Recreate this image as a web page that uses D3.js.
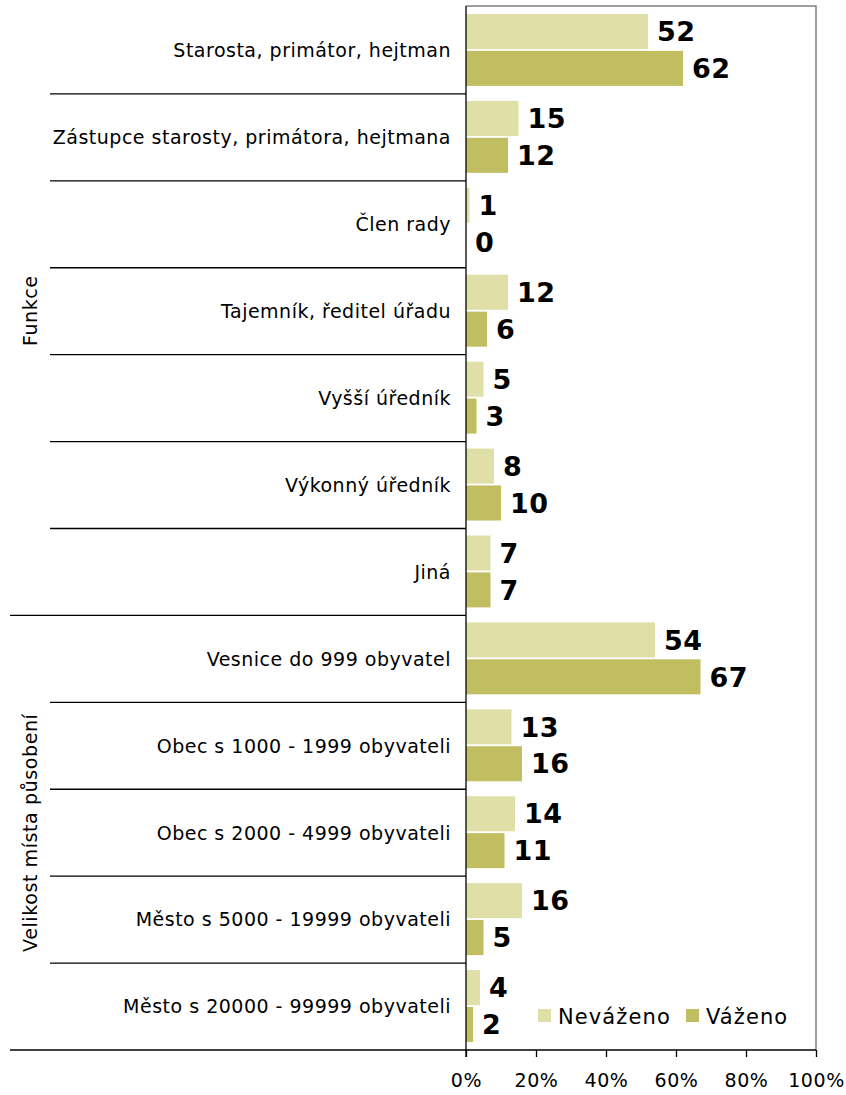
<!DOCTYPE html>
<html>
<head>
<meta charset="utf-8">
<script src="https://cdn.jsdelivr.net/npm/d3@7/dist/d3.min.js"></script>
<style>
  body { margin: 0; background: #fff; }
  svg { display: block; font-family: "DejaVu Sans", Verdana, sans-serif; }
</style>
</head>
<body>
<script>
// categories (top to bottom) and the group each one belongs to
var categories = [
  "Starosta, primátor, hejtman",
  "Zástupce starosty, primátora, hejtmana",
  "Člen rady",
  "Tajemník, ředitel úřadu",
  "Vyšší úředník",
  "Výkonný úředník",
  "Jiná",
  "Vesnice do 999 obyvatel",
  "Obec s 1000 - 1999 obyvateli",
  "Obec s 2000 - 4999 obyvateli",
  "Město s 5000 - 19999 obyvateli",
  "Město s 20000 - 99999 obyvateli"
];
var groups = ["Funkce", "Velikost místa působení"];
var groupSizes = [7, 5];

var series = ["Neváženo", "Váženo"];
var nevazeno = [52, 15, 1, 12, 5, 8, 7, 54, 13, 14, 16, 4];
var vazeno   = [62, 12, 0, 6, 3, 10, 7, 67, 16, 11, 5, 2];
var xTicks = [0, 20, 40, 60, 80, 100];

var W = 846, H = 1095;
var plotLeft = 466, plotRight = 816, plotTop = 6, plotBottom = 1050;

var svg = d3.select("body").append("svg")
    .attr("width", W)
    .attr("height", H);

var x = d3.scaleLinear().domain([0, 100]).range([plotLeft, plotRight]);
var y = d3.scaleBand().domain(categories).range([7, plotBottom]).paddingInner(0).paddingOuter(0);
var ySub = d3.scaleBand().domain(series)
    .range([7, y.bandwidth() - 8]).paddingInner(0.05);
var color = d3.scaleOrdinal().domain(series).range(["#e0dfa8", "#c0be60"]);

// frame (top + right)
svg.append("path")
    .attr("d", "M" + plotLeft + "," + plotTop + "H" + plotRight + "V" + plotBottom)
    .attr("fill", "none")
    .attr("stroke", "#808080")
    .attr("stroke-width", 1.5);

// bars
var data = [];
categories.forEach(function(c, i) {
  data.push({cat: c, s: series[0], v: nevazeno[i]});
  data.push({cat: c, s: series[1], v: vazeno[i]});
});

svg.selectAll(".bar")
    .data(data)
  .enter().append("rect")
    .attr("class", "bar")
    .attr("x", x(0))
    .attr("y", function(d) { return y(d.cat) + ySub(d.s); })
    .attr("width", function(d) { return x(d.v) - x(0); })
    .attr("height", ySub.bandwidth())
    .attr("fill", function(d) { return color(d.s); });

svg.selectAll(".val")
    .data(data)
  .enter().append("text")
    .attr("class", "val")
    .attr("x", function(d) { return x(d.v) + 9; })
    .attr("y", function(d) { return y(d.cat) + ySub(d.s) + ySub.bandwidth() / 2; })
    .attr("dy", "0.36em")
    .style("font-size", "27px")
    .style("font-weight", "bold")
    .style("letter-spacing", "0.5px")
    .text(function(d) { return d.v; });

// category labels
svg.selectAll(".cat")
    .data(categories)
  .enter().append("text")
    .attr("class", "cat")
    .attr("x", 451)
    .attr("y", function(d) { return y(d) + y.bandwidth() / 2; })
    .attr("dy", "0.36em")
    .attr("text-anchor", "end")
    .style("font-size", "19px")
    .style("letter-spacing", "0.5px")
    .text(function(d) { return d; });

// separator lines between categories
var sep = svg.append("g").attr("stroke", "#000").attr("stroke-width", 1.3);
var start = 0;
groups.forEach(function(g, gi) {
  for (var k = 1; k < groupSizes[gi]; k++) {
    var yy = y(categories[start + k]);
    sep.append("line").attr("x1", 50).attr("x2", plotLeft).attr("y1", yy).attr("y2", yy);
  }
  start += groupSizes[gi];
  var yEnd = start < categories.length ? y(categories[start]) : plotBottom;
  sep.append("line").attr("x1", 10).attr("x2", plotLeft).attr("y1", yEnd).attr("y2", yEnd);
});

// group labels
start = 0;
groups.forEach(function(g, gi) {
  var y0 = gi === 0 ? plotTop : y(categories[start]);
  start += groupSizes[gi];
  var y1 = start < categories.length ? y(categories[start]) : plotBottom;
  var cy = (y0 + y1) / 2;
  svg.append("text")
    .attr("transform", "translate(30," + cy + ") rotate(-90)")
    .attr("text-anchor", "middle")
    .attr("dy", "0.36em")
    .style("font-size", "19px")
    .style("letter-spacing", "0.6px")
    .text(g);
});

// y axis line
svg.append("line")
    .attr("x1", plotLeft).attr("x2", plotLeft)
    .attr("y1", plotTop).attr("y2", plotBottom + 7)
    .attr("stroke", "#000").attr("stroke-width", 1.3);

// x axis
var xAxis = d3.axisBottom(x)
    .tickValues(xTicks)
    .tickSize(7)
    .tickPadding(17)
    .tickFormat(function(d) { return d + "%"; });

var gx = svg.append("g")
    .attr("transform", "translate(0," + plotBottom + ")")
    .call(xAxis);
gx.select(".domain").attr("stroke", "#000").attr("stroke-width", 1.3).attr("d", "M" + plotLeft + ",0H" + plotRight);
gx.selectAll(".tick line").attr("stroke", "#000").attr("stroke-width", 1.3);
gx.selectAll(".tick text")
    .style("font-size", "19px")
    .style("letter-spacing", "0.6px")
    .style("font-family", "DejaVu Sans, Verdana, sans-serif")
    .attr("fill", "#000");

// legend
var legendX = [538, 686];
var legend = svg.selectAll(".legend")
    .data(series)
  .enter().append("g")
    .attr("class", "legend")
    .attr("transform", function(d, i) { return "translate(" + legendX[i] + ",1009)"; });

legend.append("rect")
    .attr("width", 13)
    .attr("height", 13)
    .attr("fill", function(d) { return color(d); });

legend.append("text")
    .attr("x", 20)
    .attr("y", 7)
    .attr("dy", "0.36em")
    .style("font-size", "21px")
    .style("letter-spacing", "1.1px")
    .text(function(d) { return d; });
</script>
</body>
</html>
